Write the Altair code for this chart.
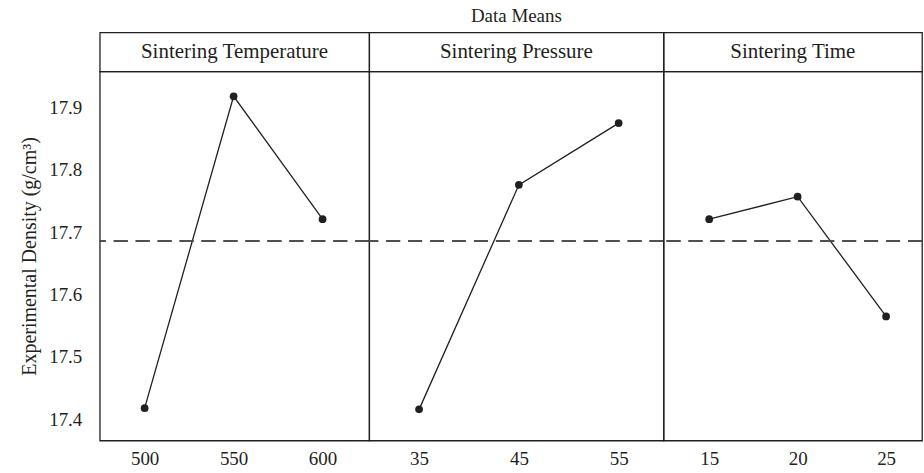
import altair as alt
import pandas as pd

# ---- data ----
factors = ["Sintering Temperature", "Sintering Pressure", "Sintering Time"]
levels_temp = [500, 550, 600]
means_temp = [17.418, 17.918, 17.721]
levels_pres = [35, 45, 55]
means_pres = [17.416, 17.776, 17.875]
levels_time = [15, 20, 25]
means_time = [17.721, 17.757, 17.565]
grand_mean = 17.686
y_ticks = [17.4, 17.5, 17.6, 17.7, 17.8, 17.9]

FONT = "Liberation Serif"
INK = "#231f20"
Y_DOMAIN = [17.366, 17.958]
PLOT_H = 370
HEAD_H = 39

panels = [
    (factors[0], levels_temp, means_temp, [474.8, 626.2], 270, True),
    (factors[1], levels_pres, means_pres, [30.0, 59.5], 295, False),
    (factors[2], levels_time, means_time, [12.42, 27.03], 259, False),
]


def make_plot(name, levels, means, xdom, width, show_y):
    df = pd.DataFrame({"level": levels, "mean": means})
    x = alt.X(
        "level:Q",
        scale=alt.Scale(domain=xdom, nice=False, zero=False),
        axis=alt.Axis(values=levels, format="d", title=None, ticks=False,
                      domain=False, grid=False, labelPadding=9),
    )
    if show_y:
        yaxis = alt.Axis(values=y_ticks, format=".1f",
                         title="Experimental Density (g/cm³)",
                         ticks=False, domain=False, grid=False,
                         labelPadding=18, titlePadding=9)
    else:
        yaxis = None
    y = alt.Y("mean:Q", scale=alt.Scale(domain=Y_DOMAIN, nice=False, zero=False),
              axis=yaxis)
    base = alt.Chart(df)
    ref = base.mark_rule(color="#4d4d4d", strokeDash=[14, 8],
                         strokeWidth=1.4).encode(y=alt.datum(grand_mean))
    line = base.mark_line(color=INK, strokeWidth=1.3).encode(x=x, y=y)
    pts = base.mark_circle(color=INK, size=60, opacity=1).encode(x=x, y=y)
    return alt.layer(line, pts, ref).properties(width=width, height=PLOT_H)


def make_head(name, width, title=None):
    head = alt.Chart(pd.DataFrame({"factor": [name], "px": [0.5], "py": [0.5]})).mark_text(
        font=FONT, fontSize=21, color=INK, baseline="middle", align="center"
    ).encode(
        text="factor:N",
        x=alt.X("px:Q", scale=alt.Scale(domain=[0, 1]), axis=None),
        y=alt.Y("py:Q", scale=alt.Scale(domain=[0, 1]), axis=None),
    )
    props = dict(width=width, height=HEAD_H)
    if title is not None:
        props["title"] = alt.TitleParams(title, font=FONT, fontSize=19,
                                         fontWeight="normal", color=INK,
                                         anchor="middle", offset=6)
    return head.properties(**props)


heads = [
    make_head(p[0], p[4], "Data Means" if i == 1 else None)
    for i, p in enumerate(panels)
]
plots = [make_plot(*p) for p in panels]

chart = alt.concat(
    *heads, *plots, columns=3, spacing=0, bounds="flush", align="each"
).properties(
    padding={"left": 19, "top": 6, "right": 0, "bottom": 0},
).configure_view(
    stroke=INK, strokeWidth=1.3
).configure_axis(
    labelFont=FONT, labelFontSize=19, labelColor=INK,
    titleFont=FONT, titleFontSize=20, titleColor=INK, titleFontWeight="normal",
)

chart.save("out.html", embed_options={"renderer": "svg", "actions": False})
